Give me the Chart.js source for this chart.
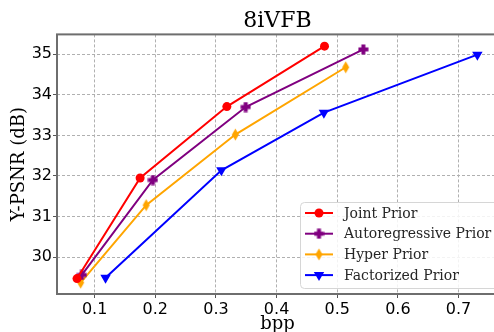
<!DOCTYPE html>
<html>
<head>
<meta charset="utf-8">
<script src="https://cdn.jsdelivr.net/npm/chart.js@4/dist/chart.umd.min.js"></script>
<style>
  html, body { margin: 0; padding: 0; background: #fff; }
  #wrap { width: 494px; height: 332px; overflow: hidden; position: relative; }
  #wrap canvas { position: absolute; left: 0; top: 0; }
</style>
</head>
<body>
<div id="wrap"><canvas id="grafica" width="504" height="340"></canvas></div>
<script>
// valores
const seriesNames = ["Joint Prior", "Autoregressive Prior", "Hyper Prior", "Factorized Prior"]
const jointBpp = [0.071, 0.175, 0.318, 0.479]
const jointPsnr = [29.47, 31.95, 33.71, 35.20]
const autoBpp = [0.079, 0.196, 0.349, 0.543]
const autoPsnr = [29.56, 31.90, 33.70, 35.12]
const hyperBpp = [0.077, 0.185, 0.332, 0.514]
const hyperPsnr = [29.37, 31.28, 33.02, 34.68]
const factBpp = [0.118, 0.309, 0.478, 0.731]
const factPsnr = [29.49, 32.14, 33.56, 34.99]
const xTicks = [0.1, 0.2, 0.3, 0.4, 0.5, 0.6, 0.7]
const yTicks = [30, 31, 32, 33, 34, 35]

const serif = "'DejaVu Serif', serif"
const sans = "'DejaVu Sans', sans-serif"

function puntos(xs, ys) {
    return xs.map((x, i) => ({ x: x, y: ys[i] }))
}

// marcador "P" (cruz rellena)
function hacerCruz(color) {
    const c = document.createElement("canvas")
    c.width = 11; c.height = 11
    const g = c.getContext("2d")
    g.fillStyle = color
    g.fillRect(3.5, 0.5, 4, 10)
    g.fillRect(0.5, 3.5, 10, 4)
    return c
}

// marcador "d" (rombo fino)
function hacerRombo(color) {
    const c = document.createElement("canvas")
    c.width = 9; c.height = 13
    const g = c.getContext("2d")
    g.fillStyle = color
    g.beginPath()
    g.moveTo(4.5, 0.5)
    g.lineTo(8, 6.5)
    g.lineTo(4.5, 12.5)
    g.lineTo(1, 6.5)
    g.closePath()
    g.fill()
    return c
}

const spines = {
    id: "spines",
    afterDatasetsDraw(chart) {
        const { ctx, chartArea } = chart
        ctx.save()
        ctx.strokeStyle = "#6e6e6e"
        ctx.lineWidth = 2
        ctx.strokeRect(chartArea.left, chartArea.top, chartArea.right - chartArea.left, chartArea.bottom - chartArea.top)
        ctx.restore()
    }
}

const leyenda = {
    id: "leyenda",
    afterDraw(chart) {
        const { ctx } = chart
        const x0 = 300, y0 = 202, w = 200, h = 86
        ctx.save()
        ctx.beginPath()
        ctx.roundRect(x0 + 0.5, y0 + 0.5, w, h, 4)
        ctx.fillStyle = "rgba(255,255,255,0.85)"
        ctx.fill()
        ctx.strokeStyle = "#d6d6d6"
        ctx.lineWidth = 1
        ctx.stroke()
        chart.data.datasets.forEach((ds, i) => {
            const y = 213 + i * 20.7
            ctx.strokeStyle = ds.borderColor
            ctx.lineWidth = 2
            ctx.beginPath()
            ctx.moveTo(305, y)
            ctx.lineTo(333, y)
            ctx.stroke()
            ctx.fillStyle = ds.backgroundColor
            Chart.helpers.drawPoint(ctx, {
                pointStyle: ds.pointStyle,
                radius: ds.pointRadius,
                rotation: ds.pointRotation || 0,
                borderWidth: 0
            }, 319, y)
            ctx.fillStyle = "#262626"
            ctx.font = "14px " + serif
            ctx.textBaseline = "middle"
            ctx.fillText(ds.label, 344, y + 1)
        })
        ctx.restore()
    }
}

const ctx = document.getElementById("grafica").getContext("2d")
new Chart(ctx, {
    type: "line",
    data: {
        datasets: [
            {
                label: seriesNames[0],
                data: puntos(jointBpp, jointPsnr),
                borderColor: "red",
                backgroundColor: "red",
                pointStyle: "circle",
                pointRadius: 4.5
            },
            {
                label: seriesNames[1],
                data: puntos(autoBpp, autoPsnr),
                borderColor: "purple",
                backgroundColor: "purple",
                pointStyle: hacerCruz("purple"),
                pointRadius: 5
            },
            {
                label: seriesNames[2],
                data: puntos(hyperBpp, hyperPsnr),
                borderColor: "orange",
                backgroundColor: "orange",
                pointStyle: hacerRombo("orange"),
                pointRadius: 5
            },
            {
                label: seriesNames[3],
                data: puntos(factBpp, factPsnr),
                borderColor: "blue",
                backgroundColor: "blue",
                pointStyle: "triangle",
                pointRotation: 180,
                pointRadius: 6
            }
        ]
    },
    options: {
        responsive: false,
        animation: false,
        events: [],
        layout: { padding: 0 },
        elements: {
            line: { borderWidth: 2, tension: 0, fill: false },
            point: { borderWidth: 0 }
        },
        plugins: {
            legend: { display: false },
            tooltip: { enabled: false },
            title: {
                display: true,
                text: "8iVFB",
                fullSize: false,
                color: "#000",
                font: { family: serif, size: 22, weight: "normal", lineHeight: 1.2 },
                padding: { top: 8, bottom: 0 }
            }
        },
        scales: {
            x: {
                type: "linear",
                min: 0.038,
                max: 0.765,
                afterFit: (s) => { s.height = 46 },
                afterBuildTicks: (s) => { s.ticks = xTicks.map(v => ({ value: v })) },
                ticks: {
                    color: "#000",
                    font: { family: sans, size: 16 },
                    padding: 2,
                    maxRotation: 0,
                    callback: (v) => v.toFixed(1)
                },
                grid: {
                    color: "#b0b0b0",
                    lineWidth: 1,
                    drawTicks: true,
                    tickLength: 4,
                    tickColor: "#555",
                    tickBorderDash: []
                },
                border: { display: false, dash: [3, 2] },
                title: {
                    display: true,
                    text: "bpp",
                    color: "#000",
                    font: { family: serif, size: 18 },
                    padding: { top: 0, bottom: 5 }
                }
            },
            y: {
                type: "linear",
                min: 29.09,
                max: 35.49,
                afterFit: (s) => { s.width = 57 },
                afterBuildTicks: (s) => { s.ticks = yTicks.map(v => ({ value: v })) },
                ticks: {
                    color: "#000",
                    font: { family: sans, size: 16 },
                    padding: 1
                },
                grid: {
                    color: "#b0b0b0",
                    lineWidth: 1,
                    drawTicks: true,
                    tickLength: 4,
                    tickColor: "#555",
                    tickBorderDash: []
                },
                border: { display: false, dash: [3, 2] },
                title: {
                    display: true,
                    text: "Y-PSNR (dB)",
                    color: "#000",
                    font: { family: serif, size: 18 },
                    padding: { top: 9, bottom: 0 }
                }
            }
        }
    },
    plugins: [spines, leyenda]
})
</script>
</body>
</html>
